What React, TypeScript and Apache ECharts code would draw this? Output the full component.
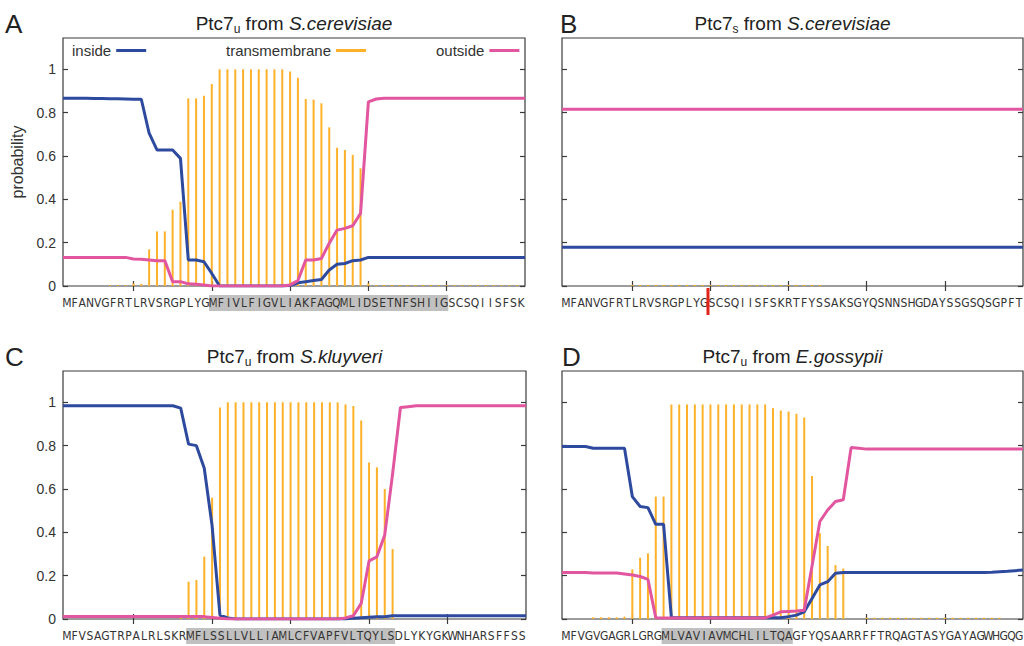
import React, { useEffect, useRef } from "react";
import * as echarts from "echarts";

// ---------- data ----------
const RESIDUES = Array.from({ length: 60 }, (_, i) => i + 1);
const X_TICKS = [10, 20, 30, 40, 50];
const Y_TICKS = [0, 0.2, 0.4, 0.6, 0.8, 1];
const Y_MAX = 1.1445;

const SEQ_A = "MFANVGFRTLRVSRGPLYGMFIVLFIGVLIAKFAGQMLIDSETNFSHIIGSCSQIISFSK".split("");
const SEQ_B = "MFANVGFRTLRVSRGPLYGSCSQIISFSKRTFYSSAKSGYQSNNSHGDAYSSGSQSGPFT".split("");
const SEQ_C = "MFVSAGTRPALRLSKRMFLSSLLVLLIAMLCFVAPFVLTQYLSDLYKYGKWNHARSFFSS".split("");
const SEQ_D = "MFVGVGAGRLGRGMLVAVIAVMCHLILTQAGFYQSAARRFFTRQAGTASYGAYAGWHGQG".split("");

// highlighted residues (1-based, inclusive)
const HL_A = [20, 50];
const HL_C = [17, 43];
const HL_D = [14, 30];
const CLEAVAGE_AFTER_B = 19;

const INSIDE_A = [
  0.866, 0.866, 0.866, 0.866, 0.865, 0.865, 0.864, 0.864, 0.863, 0.862,
  0.862, 0.705, 0.628, 0.628, 0.628, 0.589, 0.12, 0.12, 0.112, 0.058,
  0, 0, 0, 0, 0, 0, 0, 0, 0, 0.002,
  0.015, 0.02, 0.025, 0.03, 0.074, 0.1, 0.104, 0.117, 0.12, 0.132,
  0.132, 0.132, 0.132, 0.132, 0.132, 0.132, 0.132, 0.132, 0.132, 0.132,
  0.132, 0.132, 0.132, 0.132, 0.132, 0.132, 0.132, 0.132, 0.132, 0.132,
];
const OUTSIDE_A = [
  0.132, 0.132, 0.132, 0.132, 0.132, 0.132, 0.132, 0.132, 0.132, 0.125,
  0.123, 0.12, 0.117, 0.117, 0.02, 0.02, 0.01, 0.008, 0.005, 0,
  0, 0, 0, 0, 0, 0, 0, 0, 0, 0.005,
  0.025, 0.12, 0.12, 0.127, 0.197, 0.258, 0.266, 0.278, 0.335, 0.85,
  0.863, 0.866, 0.866, 0.866, 0.866, 0.866, 0.866, 0.866, 0.866, 0.866,
  0.866, 0.866, 0.866, 0.866, 0.866, 0.866, 0.866, 0.866, 0.866, 0.866,
];
const TM_A = [
  0, 0, 0, 0, 0, 0, 0.004, 0.004, 0.004, 0.012,
  0.01, 0.169, 0.252, 0.252, 0.352, 0.389, 0.866, 0.866, 0.878, 0.932,
  1, 1, 1, 1, 1, 1, 1, 1, 1, 0.99,
  0.961, 0.863, 0.86, 0.843, 0.732, 0.638, 0.628, 0.605, 0.543, 0.012,
  0.004, 0.004, 0.004, 0.004, 0.004, 0.004, 0.004, 0.004, 0.004, 0.004,
  0.004, 0.004, 0.004, 0.004, 0.004, 0.004, 0.004, 0.004, 0.004, 0,
];

const INSIDE_B = [
  0.179, 0.179, 0.179, 0.179, 0.179, 0.179, 0.179, 0.179, 0.179, 0.179,
  0.179, 0.179, 0.179, 0.179, 0.179, 0.179, 0.179, 0.179, 0.179, 0.179,
  0.179, 0.179, 0.179, 0.179, 0.179, 0.179, 0.179, 0.179, 0.179, 0.179,
  0.179, 0.179, 0.179, 0.179, 0.179, 0.179, 0.179, 0.179, 0.179, 0.179,
  0.179, 0.179, 0.179, 0.179, 0.179, 0.179, 0.179, 0.179, 0.179, 0.179,
  0.179, 0.179, 0.179, 0.179, 0.179, 0.179, 0.179, 0.179, 0.179, 0.179,
];
const OUTSIDE_B = [
  0.816, 0.816, 0.816, 0.816, 0.816, 0.816, 0.816, 0.816, 0.816, 0.816,
  0.816, 0.816, 0.816, 0.816, 0.816, 0.816, 0.816, 0.816, 0.816, 0.816,
  0.816, 0.816, 0.816, 0.816, 0.816, 0.816, 0.816, 0.816, 0.816, 0.816,
  0.816, 0.816, 0.816, 0.816, 0.816, 0.816, 0.816, 0.816, 0.816, 0.816,
  0.816, 0.816, 0.816, 0.816, 0.816, 0.816, 0.816, 0.816, 0.816, 0.816,
  0.816, 0.816, 0.816, 0.816, 0.816, 0.816, 0.816, 0.816, 0.816, 0.816,
];
const TM_B = [
  0, 0, 0, 0, 0, 0, 0, 0, 0, 0.005,
  0.005, 0.005, 0.005, 0.005, 0.005, 0.005, 0.005, 0.005, 0.005, 0.005,
  0.005, 0.005, 0.005, 0.005, 0.005, 0.005, 0.005, 0.005, 0.005, 0.005,
  0.005, 0.005, 0.005, 0.005, 0, 0, 0, 0, 0, 0,
  0, 0, 0, 0, 0, 0, 0, 0, 0, 0,
  0, 0, 0, 0, 0, 0, 0, 0, 0, 0,
];

const INSIDE_C = [
  0.984, 0.984, 0.984, 0.984, 0.984, 0.984, 0.984, 0.984, 0.984, 0.984,
  0.984, 0.984, 0.984, 0.984, 0.984, 0.973, 0.807, 0.8, 0.696, 0.43,
  0.018, 0.005, 0, 0, 0, 0, 0, 0, 0, 0,
  0, 0, 0, 0, 0, 0, 0, 0.004, 0.006, 0.008,
  0.01, 0.01, 0.015, 0.015, 0.015, 0.015, 0.015, 0.015, 0.015, 0.015,
  0.015, 0.015, 0.015, 0.015, 0.015, 0.015, 0.015, 0.015, 0.015, 0.015,
];
const OUTSIDE_C = [
  0.011, 0.011, 0.011, 0.011, 0.011, 0.011, 0.011, 0.011, 0.011, 0.011,
  0.011, 0.011, 0.011, 0.011, 0.011, 0.011, 0.011, 0.011, 0.011, 0.007,
  0.003, 0, 0, 0, 0, 0, 0, 0, 0, 0,
  0, 0, 0, 0, 0, 0, 0.005, 0.015, 0.072, 0.268,
  0.287, 0.388, 0.67, 0.976, 0.98, 0.984, 0.984, 0.984, 0.984, 0.984,
  0.984, 0.984, 0.984, 0.984, 0.984, 0.984, 0.984, 0.984, 0.984, 0.984,
];
const TM_C = [
  0, 0, 0, 0, 0, 0, 0, 0, 0, 0,
  0, 0, 0, 0, 0, 0.01, 0.172, 0.18, 0.288, 0.56,
  0.976, 1, 1, 1, 1, 1, 1, 1, 1, 1,
  1, 1, 1, 1, 1, 1, 0.99, 0.983, 0.916, 0.722,
  0.7, 0.6, 0.323, 0, 0, 0, 0, 0, 0, 0,
  0, 0, 0, 0, 0, 0, 0, 0, 0, 0,
];

const INSIDE_D = [
  0.796, 0.796, 0.796, 0.796, 0.788, 0.788, 0.788, 0.788, 0.788, 0.565,
  0.519, 0.514, 0.437, 0.437, 0.006, 0.006, 0.006, 0.006, 0.006, 0.006,
  0.006, 0.006, 0.006, 0.006, 0.006, 0.006, 0.006, 0.006, 0.006, 0.011,
  0.018, 0.033, 0.095, 0.157, 0.172, 0.211, 0.215, 0.215, 0.215, 0.215,
  0.215, 0.215, 0.215, 0.215, 0.215, 0.215, 0.215, 0.215, 0.215, 0.215,
  0.215, 0.215, 0.215, 0.215, 0.215, 0.216, 0.218, 0.22, 0.223, 0.226,
];
const OUTSIDE_D = [
  0.215, 0.215, 0.215, 0.215, 0.212, 0.212, 0.212, 0.212, 0.208, 0.203,
  0.196, 0.183, 0.006, 0.005, 0.005, 0.005, 0.005, 0.005, 0.005, 0.005,
  0.005, 0.005, 0.005, 0.005, 0.005, 0.005, 0.005, 0.018, 0.033, 0.035,
  0.037, 0.04, 0.245, 0.45, 0.503, 0.542, 0.55, 0.791, 0.788, 0.784,
  0.784, 0.784, 0.784, 0.784, 0.784, 0.784, 0.784, 0.784, 0.784, 0.784,
  0.784, 0.784, 0.784, 0.784, 0.784, 0.784, 0.784, 0.784, 0.784, 0.784,
];
const TM_D = [
  0, 0, 0, 0, 0.008, 0.008, 0.008, 0.008, 0.011, 0.229,
  0.283, 0.303, 0.565, 0.565, 0.99, 0.99, 0.99, 0.99, 0.99, 0.99,
  0.99, 0.99, 0.99, 0.99, 0.99, 0.99, 0.99, 0.973, 0.962, 0.957,
  0.947, 0.93, 0.66, 0.396, 0.337, 0.249, 0.233, 0, 0, 0.006,
  0.006, 0.006, 0.006, 0.006, 0.006, 0.006, 0.006, 0.006, 0.006, 0.006,
  0.006, 0.006, 0.006, 0.006, 0.006, 0.006, 0.006, 0, 0, 0,
];

// ---------- styling ----------
const FONT = '"Liberation Sans", Arial, Helvetica, sans-serif';
const SEQ_FONT = '"Liberation Sans Narrow", "DejaVu Sans Condensed", "Liberation Sans", Arial, sans-serif';
const BLUE = "#2e4a9e";
const PINK = "#e2559f";
const ORANGE = "#fdb12a";
const TEXT = "#333";

type Panel = {
  letter: string;
  sub: string;
  species: string;
  grid: { left: number; top: number; width: number; height: number };
  seq: string[];
  hl: number[] | null;
  inside: number[];
  outside: number[];
  tm: number[];
  yLabels: boolean;
  letterX: number;
};

const PANELS: Panel[] = [
  { letter: "A", sub: "u", species: "S.cerevisiae", grid: { left: 63, top: 38, width: 462, height: 248 }, seq: SEQ_A, hl: HL_A, inside: INSIDE_A, outside: OUTSIDE_A, tm: TM_A, yLabels: true, letterX: 5 },
  { letter: "B", sub: "s", species: "S.cerevisiae", grid: { left: 562, top: 38, width: 461, height: 248 }, seq: SEQ_B, hl: null, inside: INSIDE_B, outside: OUTSIDE_B, tm: TM_B, yLabels: false, letterX: 560 },
  { letter: "C", sub: "u", species: "S.kluyveri", grid: { left: 63, top: 371, width: 463, height: 248 }, seq: SEQ_C, hl: HL_C, inside: INSIDE_C, outside: OUTSIDE_C, tm: TM_C, yLabels: true, letterX: 5 },
  { letter: "D", sub: "u", species: "E.gossypii", grid: { left: 562, top: 371, width: 461, height: 248 }, seq: SEQ_D, hl: HL_D, inside: INSIDE_D, outside: OUTSIDE_D, tm: TM_D, yLabels: false, letterX: 562 },
];

function buildOption() {
  const grid: any[] = [];
  const xAxis: any[] = [];
  const yAxis: any[] = [];
  const series: any[] = [];
  const graphic: any[] = [];

  PANELS.forEach((p, k) => {
    grid.push({
      ...p.grid,
      show: true,
      borderColor: "#3a3a3a",
      borderWidth: 1.2,
      backgroundColor: "transparent",
      containLabel: false,
      outerBoundsMode: "none",
    });
    const tickStyle = { show: true, inside: true, length: 5, lineStyle: { color: "#3a3a3a", width: 1.2 } };
    xAxis.push({
      type: "value", gridIndex: k, min: 1, max: 60, position: "bottom",
      axisLine: { show: false }, splitLine: { show: false },
      axisTick: { ...tickStyle, customValues: X_TICKS },
      axisLabel: { show: false },
    });
    xAxis.push({
      type: "value", gridIndex: k, min: 1, max: 60, position: "top",
      axisLine: { show: false }, splitLine: { show: false },
      axisTick: { ...tickStyle, customValues: X_TICKS },
      axisLabel: { show: false },
    });
    const bandW = p.grid.width / p.seq.length;
    const base = {
      fontFamily: SEQ_FONT, fontSize: 12, color: TEXT,
      width: bandW + 0.6, height: 16, lineHeight: 16, align: "center", verticalAlign: "middle",
    };
    const hl = p.hl;
    xAxis.push({
      type: "category", gridIndex: k, data: p.seq, position: "bottom", boundaryGap: true,
      axisLine: { show: false }, axisTick: { show: false }, splitLine: { show: false },
      axisLabel: {
        interval: 0, margin: 9,
        formatter: (v: string, idx: number) =>
          hl && idx + 1 >= hl[0] && idx + 1 <= hl[1] ? `{h|${v}}` : `{n|${v}}`,
        rich: { n: base, h: { ...base, backgroundColor: "#c0c0c0" } },
      },
    });
    yAxis.push({
      type: "value", gridIndex: k, min: 0, max: Y_MAX, position: "left",
      axisLine: { show: false }, splitLine: { show: false },
      axisTick: { ...tickStyle, customValues: Y_TICKS },
      axisLabel: {
        show: p.yLabels, customValues: Y_TICKS, margin: 7,
        fontFamily: FONT, fontSize: 14, color: TEXT,
        formatter: (v: number) => String(Math.round(v * 10) / 10),
      },
      name: k === 0 ? "probability" : "",
      nameLocation: "middle",
      nameGap: 38,
      nameTextStyle: { fontFamily: FONT, fontSize: 16, color: TEXT },
    });
    yAxis.push({
      type: "value", gridIndex: k, min: 0, max: Y_MAX, position: "right",
      axisLine: { show: false }, splitLine: { show: false },
      axisTick: { ...tickStyle, customValues: Y_TICKS },
      axisLabel: { show: false },
    });

    const xi = 3 * k;
    const yi = 2 * k;
    series.push({
      type: "bar", name: "transmembrane", xAxisIndex: xi, yAxisIndex: yi,
      data: RESIDUES.map((r, i) => [r, p.tm[i]]),
      barWidth: 2, itemStyle: { color: ORANGE }, z: 2,
    });
    series.push({
      type: "line", name: "inside", xAxisIndex: xi, yAxisIndex: yi,
      data: RESIDUES.map((r, i) => [r, p.inside[i]]),
      symbol: "none", showSymbol: false,
      lineStyle: { color: BLUE, width: 3 }, itemStyle: { color: BLUE }, z: 3,
    });
    series.push({
      type: "line", name: "outside", xAxisIndex: xi, yAxisIndex: yi,
      data: RESIDUES.map((r, i) => [r, p.outside[i]]),
      symbol: "none", showSymbol: false,
      lineStyle: { color: PINK, width: 3 }, itemStyle: { color: PINK }, z: 4,
    });

    const cx = p.grid.left + p.grid.width / 2;
    graphic.push({
      type: "text", id: "title" + k, x: cx, y: p.grid.top - 15, z: 50,
      style: {
        text: `{n|Ptc7}{s|${p.sub}}{n| from }{i|${p.species}}`,
        align: "center", verticalAlign: "middle",
        rich: {
          n: { fontFamily: FONT, fontSize: 19, fill: "#222", lineHeight: 24, verticalAlign: "middle" },
          s: { fontFamily: FONT, fontSize: 12, fill: "#222", lineHeight: 12, verticalAlign: "bottom" },
          i: { fontFamily: FONT, fontSize: 19, fontStyle: "italic", fill: "#222", lineHeight: 24, verticalAlign: "middle" },
        },
      },
    });
    graphic.push({
      type: "text", id: "letter" + k, x: p.letterX, y: p.grid.top - 14, z: 50,
      style: { text: p.letter, fontFamily: FONT, fontSize: 26, fill: "#222", align: "left", verticalAlign: "middle" },
    });
  });

  const legendCommon = {
    orient: "horizontal", align: "right", icon: "rect", itemWidth: 30, itemHeight: 3,
    padding: 0, selectedMode: false,
    textStyle: { fontFamily: FONT, fontSize: 15, color: TEXT },
  };

  return {
    animation: false,
    backgroundColor: "#ffffff",
    grid, xAxis, yAxis, series,
    legend: [
      { ...legendCommon, data: ["inside"], left: 72, top: 43 },
      { ...legendCommon, data: ["transmembrane"], left: 226, top: 43 },
      { ...legendCommon, data: ["outside"], left: 436, top: 43 },
    ],
    graphic: { elements: graphic },
  };
}

export default function App() {
  const ref = useRef<HTMLDivElement>(null);
  useEffect(() => {
    if (!ref.current) return;
    const chart = echarts.init(ref.current, null, { renderer: "svg" });
    chart.setOption(buildOption() as any);
    // cleavage marker in panel B, between residue 19 and 20 of the letter axis
    const letterAxisB = 3 * 1 + 2;
    const p1 = chart.convertToPixel({ xAxisIndex: letterAxisB } as any, CLEAVAGE_AFTER_B - 1) as unknown as number;
    const p2 = chart.convertToPixel({ xAxisIndex: letterAxisB } as any, CLEAVAGE_AFTER_B) as unknown as number;
    const xm = (p1 + p2) / 2;
    const gB = PANELS[1].grid;
    const yb = gB.top + gB.height;
    chart.setOption({
      graphic: {
        elements: [
          { id: "cleave", type: "line", z: 100, shape: { x1: xm, y1: yb + 2, x2: xm, y2: yb + 29 }, style: { stroke: "#e2231a", lineWidth: 3 } },
        ],
      },
    } as any);
    return () => chart.dispose();
  }, []);
  return (
    <div
      ref={ref}
      style={{ position: "fixed", left: 0, top: 0, width: 1024, height: 646, background: "#fff" }}
    />
  );
}
